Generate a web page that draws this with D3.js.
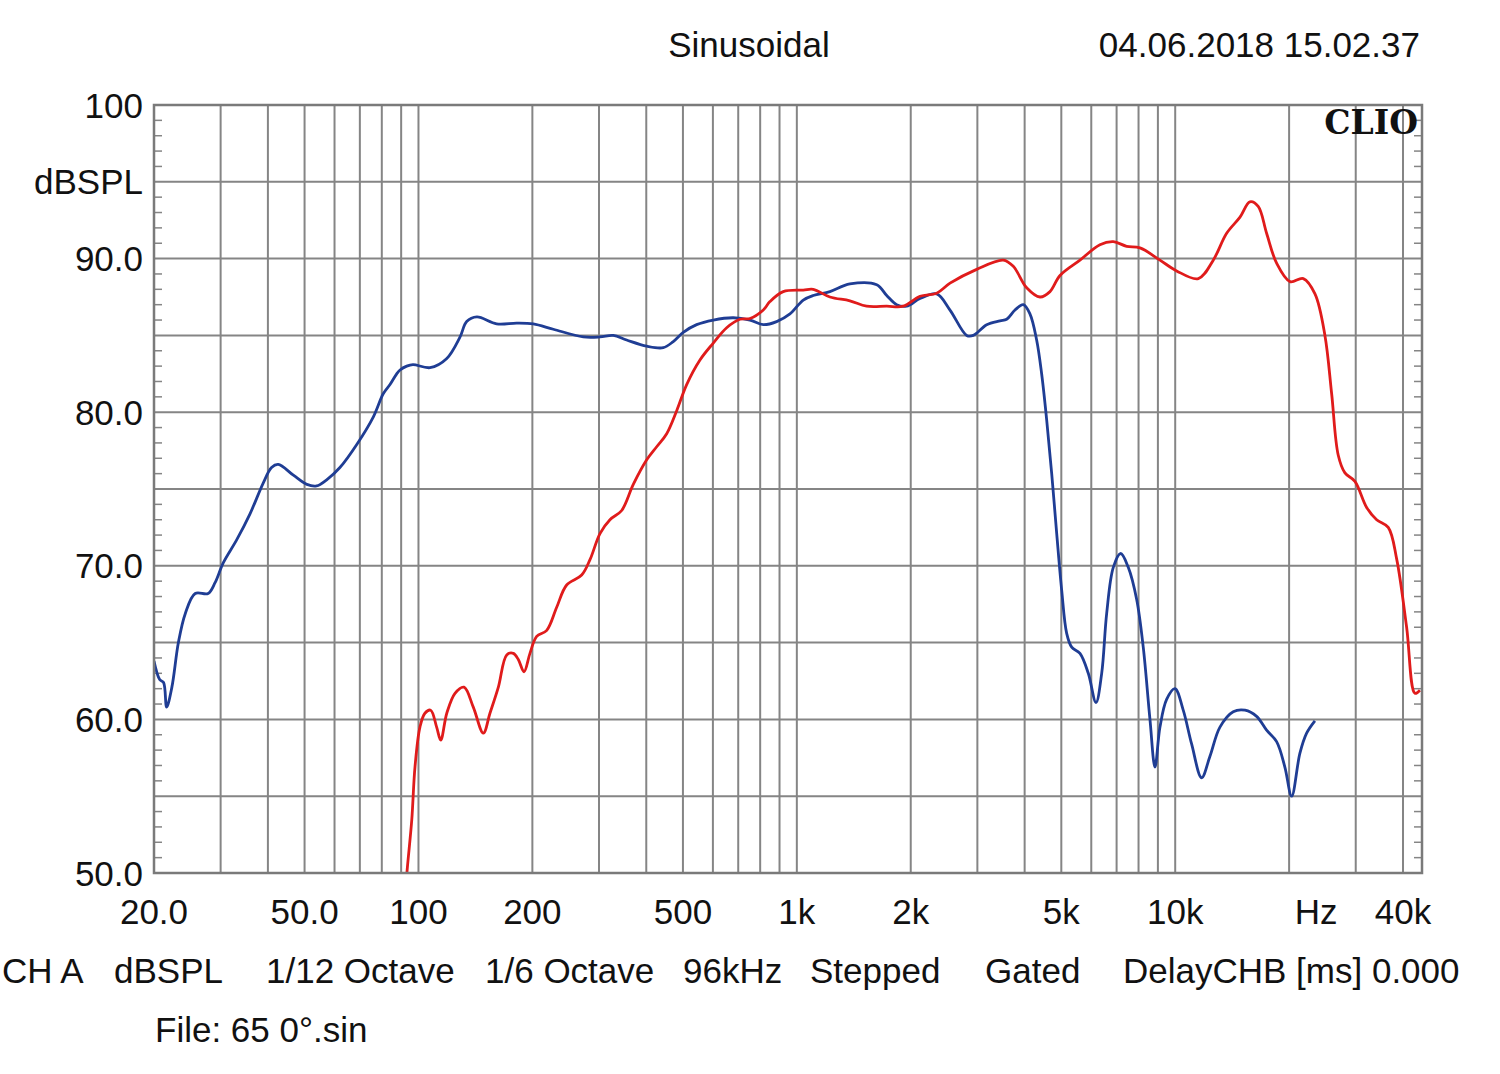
<!DOCTYPE html>
<html>
<head>
<meta charset="utf-8">
<script src="https://cdn.jsdelivr.net/npm/d3@7/dist/d3.min.js"></script>
<style>
    body { margin: 0; background: #fff; }
    #chart text { font-family: "Liberation Sans", Arial, sans-serif; fill: #111; }
</style>
</head>
<body>
<div id="chart"></div>
<script>
// axis ticks and labels
var freqTicks = [20, 50, 100, 200, 500, 1000, 2000, 5000, 10000, 20000, 40000];
var freqLabels = ['20.0', '50.0', '100', '200', '500', '1k', '2k', '5k', '10k', 'Hz', '40k'];
var dbTicks = [100, 95, 90, 80, 70, 60, 50];
var dbLabels = ['100', 'dBSPL', '90.0', '80.0', '70.0', '60.0', '50.0'];

// blue curve (Hz / dB)
var wooferFreq = [20, 20.7, 21.2, 21.6, 22.3, 23.2, 24.2, 25.7, 27.8, 29.0, 30.5, 33.1, 35.9, 38.9, 40.9, 42.6,
    46.7, 50.7, 53.8, 57.2, 62.0, 68.7, 76.0, 80.7, 84.1, 87.6, 89.4, 93.1, 96.7, 107.3, 118.8, 128.8, 134.1,
    142.7, 160.9, 181.8, 201.1, 227.2, 272.7, 301.8, 327.2, 354.9, 401.1, 443.6, 471.4, 501, 543.5, 601.4,
    679.2, 751.7, 815.1, 884.3, 959, 1040, 1105, 1223, 1381, 1626, 1728, 1836, 1951, 2116, 2342, 2540, 2811,
    2926, 3175, 3443, 3586, 3772, 3967, 4131, 4303, 4436, 4574, 4716, 4862, 5012, 5166, 5326, 5601, 5892,
    6175, 6393, 6590, 6861, 7176, 7515, 7910, 8232, 8576, 8841, 9114, 9491, 9984, 10500, 11050, 11745,
    12355, 13130, 14235, 15290, 16410, 17440, 18535, 19490, 20310, 21360, 22250, 23400];
var wooferDb = [63.8, 62.6, 62.4, 60.8, 62.1, 65.0, 66.9, 68.2, 68.2, 68.9, 70.2, 71.7, 73.4, 75.4, 76.4, 76.6,
    75.9, 75.3, 75.2, 75.6, 76.4, 77.9, 79.7, 81.2, 81.8, 82.5, 82.75, 83.0, 83.1, 82.9, 83.5, 84.9, 85.9,
    86.2, 85.75, 85.8, 85.75, 85.4, 84.9, 84.9, 85.0, 84.7, 84.3, 84.2, 84.6, 85.2, 85.7, 86.0,
    86.15, 86.0, 85.7, 85.9, 86.4, 87.3, 87.6, 87.85, 88.35, 88.3, 87.6, 87.0, 86.9, 87.4, 87.7, 86.65, 85.0,
    85.0, 85.7, 85.95, 86.05, 86.65, 87.0, 86.4, 84.7, 82.5, 79.5, 76.0, 72.1, 68.4, 65.6, 64.7, 64.3, 63.0,
    61.1, 63.0, 66.9, 69.9, 70.8, 69.9, 67.8, 64.7, 60.0, 56.9, 59.5, 61.3, 62.0, 60.6, 58.4, 56.2,
    57.6, 59.5, 60.5, 60.6, 60.2, 59.3, 58.55, 56.9, 55.0, 57.8, 59.1, 59.9];

// red curve (Hz / dB)
var tweeterFreq = [92.7, 93.2, 96.0, 97.9, 100.9, 104.0, 107.7, 111.7, 114.5, 118.8, 124.9, 131.9, 139.6,
    148.4, 154.5, 162.6, 171.1, 178.1, 183.6, 190.1, 197.1, 205.3, 218.3, 231.9, 246.4, 270, 284, 301.8,
    320.7, 344.4, 369.6, 401.1, 426.2, 452.9, 481.4, 511.5, 554.6, 601.4, 652.4, 707.5, 751.7, 815.1, 849,
    920.7, 1040, 1105, 1223, 1381, 1529, 1728, 1911, 2116, 2342, 2540, 2988, 3512, 3733, 4050, 4391, 4667,
    4960, 5602, 6325, 6861, 7441, 8069, 9114, 10088, 11510, 12605, 13675, 14833, 15757, 16570, 17440, 18535,
    20110, 21800, 23410, 24870, 25910, 26970, 28090, 29850, 32060, 34070, 36560, 38480, 40890, 43010, 44340];
var tweeterDb = [49.0, 50.0, 53.45, 56.9, 59.5, 60.4, 60.6, 59.5, 58.65, 60.4, 61.7, 62.1, 60.8,
    59.1, 60.4, 62.1, 64.2, 64.3, 63.9, 63.1, 64.3, 65.4, 65.8, 67.3, 68.75, 69.4, 70.4, 72.1,
    73.0, 73.6, 75.3, 76.9, 77.75, 78.6, 80.1, 81.8, 83.4, 84.5, 85.5, 86.05, 86.1, 86.65, 87.2,
    87.85, 87.95, 88.0, 87.5, 87.25, 86.9, 86.9, 86.9, 87.55, 87.75, 88.4, 89.3, 89.9, 89.5, 88.1, 87.5, 87.85,
    88.9, 89.9, 90.9, 91.1, 90.8, 90.7, 89.9, 89.2, 88.7, 89.9, 91.65, 92.7, 93.7, 93.4, 91.65, 89.7,
    88.5, 88.7, 87.7, 85.0, 81.2, 77.2, 76.05, 75.5, 73.8, 73.0, 72.5, 70.45, 66.0, 61.7, 61.9];

var footerItems = ['CH A', 'dBSPL', '1/12 Octave', '1/6 Octave', '96kHz', 'Stepped', 'Gated', 'DelayCHB [ms] 0.000'];

var margin = {top: 105, right: 78, bottom: 201, left: 154};
var fontSize = 35;

var svg = d3.select('#chart')
    .append('svg')
    .attr('width', 1500)
    .attr('height', 1074);

var width = +svg.attr('width') - margin.left - margin.right,
    height = +svg.attr('height') - margin.top - margin.bottom;

var g = svg.append('g')
    .attr('transform', 'translate(' + margin.left + ',' + margin.top + ')');

var x = d3.scaleLog()
    .domain([20, 44900])
    .range([0, width]);

var y = d3.scaleLinear()
    .domain([50, 100])
    .range([height, 0]);

var gridColor = '#858585';

// vertical grid: 1..9 of every decade
var gridFreqs = [];
[10, 100, 1000, 10000].forEach(function (dec) {
    for (var m = 1; m <= 9; m++) {
        var f = m * dec;
        if (f > 20 && f < 44900) gridFreqs.push(f);
    }
});

g.append('g')
    .selectAll('line')
    .data(gridFreqs)
    .enter()
    .append('line')
    .attr('x1', function (d) { return x(d); })
    .attr('x2', function (d) { return x(d); })
    .attr('y1', 0)
    .attr('y2', height)
    .attr('stroke', gridColor)
    .attr('stroke-width', 2);

g.append('g')
    .selectAll('line')
    .data(d3.range(55, 100, 5))
    .enter()
    .append('line')
    .attr('x1', 0)
    .attr('x2', width)
    .attr('y1', function (d) { return y(d); })
    .attr('y2', function (d) { return y(d); })
    .attr('stroke', gridColor)
    .attr('stroke-width', 2);

// 1 dB minor ticks on both sides
var minor = d3.range(51, 100).filter(function (d) { return d % 5 !== 0; });
[[0, 8], [width - 8, width]].forEach(function (side) {
    g.append('g')
        .selectAll('line')
        .data(minor)
        .enter()
        .append('line')
        .attr('x1', side[0])
        .attr('x2', side[1])
        .attr('y1', function (d) { return y(d); })
        .attr('y2', function (d) { return y(d); })
        .attr('stroke', gridColor)
        .attr('stroke-width', 1.5);
});

// curves
g.append('clipPath')
    .attr('id', 'plotClip')
    .append('rect')
    .attr('width', width)
    .attr('height', height);

var line = d3.line()
    .x(function (d) { return x(d[0]); })
    .y(function (d) { return y(d[1]); })
    .curve(d3.curveCatmullRom.alpha(0.5));

var series = [
    {freq: wooferFreq, db: wooferDb, color: '#1f3d94'},
    {freq: tweeterFreq, db: tweeterDb, color: '#e01b1b'}
];

g.append('g')
    .attr('clip-path', 'url(#plotClip)')
    .selectAll('path')
    .data(series)
    .enter()
    .append('path')
    .attr('fill', 'none')
    .attr('stroke', function (d) { return d.color; })
    .attr('stroke-width', 2.8)
    .attr('stroke-linejoin', 'round')
    .attr('d', function (d) {
        return line(d.freq.map(function (f, i) { return [f, d.db[i]]; }));
    });

// frame
g.append('rect')
    .attr('width', width)
    .attr('height', height)
    .attr('fill', 'none')
    .attr('stroke', '#7a7a7a')
    .attr('stroke-width', 2.5);

// x labels
g.append('g')
    .attr('font-size', fontSize)
    .attr('text-anchor', 'middle')
    .selectAll('text')
    .data(freqTicks)
    .enter()
    .append('text')
    .attr('x', function (d) { return x(d); })
    .attr('dx', function (d, i) { return freqLabels[i] === 'Hz' ? 27 : 0; })
    .attr('y', height + 51)
    .text(function (d, i) { return freqLabels[i]; });

// y labels
g.append('g')
    .attr('font-size', fontSize)
    .attr('text-anchor', 'end')
    .selectAll('text')
    .data(dbTicks)
    .enter()
    .append('text')
    .attr('x', -11)
    .attr('y', function (d) { return y(d) + 12.5; })
    .text(function (d, i) { return dbLabels[i]; });

// CLIO mark
g.append('text')
    .attr('x', width - 4)
    .attr('y', 29)
    .attr('text-anchor', 'end')
    .style('font-family', '"DejaVu Serif", serif')
    .attr('font-weight', 'bold')
    .attr('font-size', 33)
    .text('CLIO');

// header
svg.append('text')
    .attr('x', 749)
    .attr('y', 57)
    .attr('text-anchor', 'middle')
    .attr('font-size', fontSize)
    .text('Sinusoidal');

svg.append('text')
    .attr('x', 1420)
    .attr('y', 57)
    .attr('text-anchor', 'end')
    .attr('font-size', fontSize)
    .text('04.06.2018 15.02.37');

// footer
var footerX = [2, 114, 266, 485, 683, 810, 985, 1123];
svg.append('g')
    .attr('font-size', fontSize)
    .selectAll('text')
    .data(footerItems)
    .enter()
    .append('text')
    .attr('x', function (d, i) { return footerX[i]; })
    .attr('y', 983)
    .text(function (d) { return d; });

svg.append('text')
    .attr('x', 155)
    .attr('y', 1042)
    .attr('font-size', fontSize)
    .text('File: 65 0°.sin');
</script>
</body>
</html>
